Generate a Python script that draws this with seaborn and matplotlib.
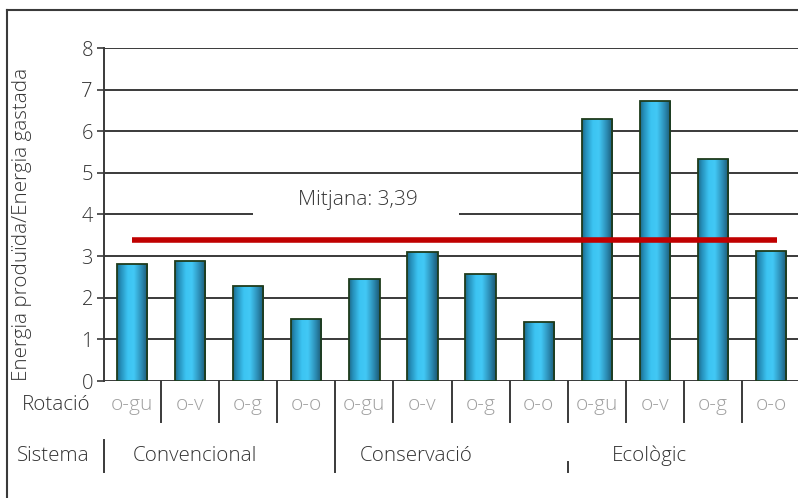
import numpy as np
import pandas as pd
import matplotlib
matplotlib.use("Agg")
import matplotlib.pyplot as plt
from matplotlib.colors import LinearSegmentedColormap
from matplotlib.lines import Line2D
from matplotlib.patches import Rectangle
import seaborn as sns

# Energy return ratio by farming system and crop rotation
SISTEMES = ["Convencional", "Conservació", "Ecològic"]
ROTACIONS = ["o-gu", "o-v", "o-g", "o-o"]
VALORS = [2.80, 2.88, 2.28, 1.48,
          2.46, 3.11, 2.57, 1.41,
          6.29, 6.72, 5.34, 3.13]
MITJANA = 3.39
Y_TICKS = [0, 1, 2, 3, 4, 5, 6, 7, 8]

plt.rcParams["font.family"] = ["Open Sans", "DejaVu Sans"]
plt.rcParams["font.weight"] = "light"

df = pd.DataFrame({
    "sistema": np.repeat(SISTEMES, len(ROTACIONS)),
    "rotacio": ROTACIONS * len(SISTEMES),
    "valor": VALORS,
})
df["barra"] = df["sistema"] + " " + df["rotacio"]

W, H = 798, 498
fig = plt.figure(figsize=(W / 100, H / 100), dpi=100)

# axes box in pixels: x from 104 to right edge, y from 48 (top) to 381 (zero line)
ax = fig.add_axes([104 / W, (H - 381) / H, (W - 104) / W, (381 - 48) / H])

dark = "#3a3a3a"
text_col = "#333333"

sns.barplot(data=df, x="barra", y="valor", order=list(df["barra"]),
            width=0.52, color="#3cc0ee", edgecolor="#1f3b1b", linewidth=1.3,
            ax=ax, zorder=3)

xlim = (-0.482, 11.463)
ax.set_xlim(*xlim)
ax.set_ylim(0, 8)

# cylinder-style shading on each bar
grad_cmap = LinearSegmentedColormap.from_list("cyl", [
    (0.00, "#1d6a88"), (0.12, "#2690bb"), (0.35, "#3cc4f2"),
    (0.55, "#42c8f5"), (0.80, "#2c8db5"), (1.00, "#1b5874")])
grad = np.linspace(0, 1, 64).reshape(1, -1)
for p in list(ax.patches):
    x0, y0 = p.get_x(), p.get_y()
    w, h = p.get_width(), p.get_height()
    im = ax.imshow(grad, cmap=grad_cmap, extent=[x0, x0 + w, y0, y0 + h],
                   aspect="auto", zorder=2.9, interpolation="bilinear")
    im.set_clip_path(p)
    p.set_facecolor("none")
ax.set_xlim(*xlim)
ax.set_ylim(0, 8)

# horizontal grid
for y in Y_TICKS:
    ax.axhline(y, color=dark, lw=1.4, zorder=1)

# white box behind the mean label
ax.add_patch(Rectangle((2.08, 3.75), 5.63 - 2.08, 1.0, facecolor="white",
                       edgecolor="none", zorder=1.5))
ax.text(3.89, 4.36, f"Mitjana: {MITJANA:.2f}".replace(".", ","),
        ha="center", va="center", fontsize=15, color=text_col, zorder=2)

# mean line
ax.plot([0, 11.1], [MITJANA, MITJANA], color="#c00000", lw=4,
        solid_capstyle="butt", zorder=4)

for s in ["top", "right", "bottom"]:
    ax.spines[s].set_visible(False)
ax.spines["left"].set_color(dark)
ax.spines["left"].set_linewidth(1.4)

ax.set_yticks(Y_TICKS)
ax.set_yticklabels([str(t) for t in Y_TICKS], fontsize=14.5, color=text_col)
ax.tick_params(axis="y", length=5, width=1.2, color=dark, pad=3)
ax.set_xticks(range(len(VALORS)))
ax.set_xticklabels(df["rotacio"], fontsize=15, color="#a0a0a0")
ax.tick_params(axis="x", length=0, pad=10)
ax.set_xlabel("")
ax.set_ylabel("")

# table lines below the axis
tr = ax.get_xaxis_transform()
def ay(py):
    return (381 - py) / 333.0

for i in range(len(VALORS) - 1):
    xb = i + 0.5
    if xb == 3.5:
        ax.plot([xb, xb], [ay(381), ay(472)], color=dark, lw=1.4,
                transform=tr, clip_on=False)
    elif xb == 7.5:
        ax.plot([xb, xb], [ay(381), ay(422)], color=dark, lw=1.4,
                transform=tr, clip_on=False)
        ax.plot([xb, xb], [ay(462), ay(472)], color=dark, lw=1.4,
                transform=tr, clip_on=False)
    else:
        ax.plot([xb, xb], [ay(381), ay(422)], color=dark, lw=1.4,
                transform=tr, clip_on=False)
ax.plot([xlim[0], xlim[0]], [ay(440), ay(472)], color=dark, lw=1.4,
        transform=tr, clip_on=False)

for x, name in zip([0.02, 3.92, 8.26], SISTEMES):
    ax.text(x, ay(456), name, ha="left", va="center", fontsize=14.8,
            color=text_col, transform=tr)

fig.text(90 / W, 1 - 405 / H, "Rotació", ha="right", va="center",
         fontsize=14.8, color=text_col)
fig.text(90 / W, 1 - 456 / H, "Sistema", ha="right", va="center",
         fontsize=14.8, color=text_col)
fig.text(22 / W, 1 - 224 / H, "Energia produïda/Energia gastada",
         rotation=90, ha="center", va="center", fontsize=14.8, color=text_col)

# outer frame (left and top edges)
fig.add_artist(Line2D([6.5 / W, 6.5 / W], [0, 1 - 10.5 / H], color=dark,
                      lw=1.5, transform=fig.transFigure))
fig.add_artist(Line2D([6.5 / W, 1], [1 - 10.5 / H, 1 - 10.5 / H], color=dark,
                      lw=1.5, transform=fig.transFigure))

fig.savefig("out.png", dpi=100)
